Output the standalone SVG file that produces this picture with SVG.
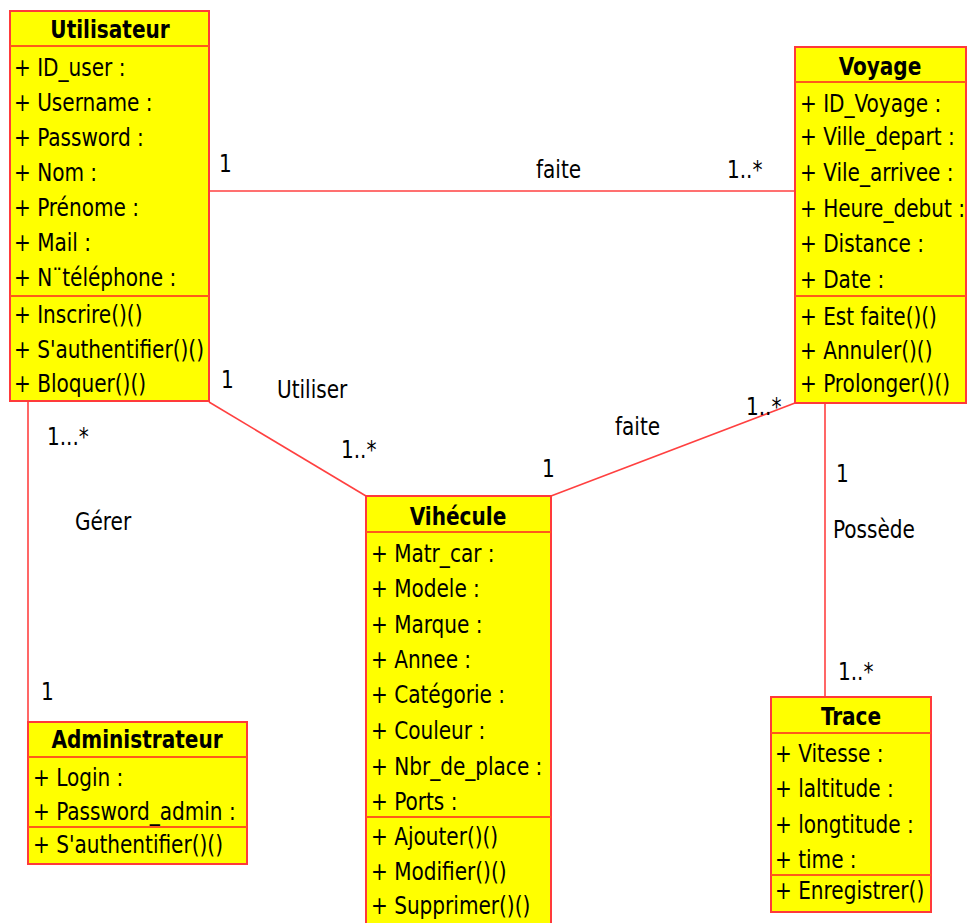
<svg xmlns="http://www.w3.org/2000/svg" width="968" height="923" viewBox="0 0 968 923">
<style>
.box{fill:#ffff00;stroke:#ff3a3a;stroke-width:2}
.sep{stroke:#ff5a1a;stroke-width:2}
.t,.lbl{font-family:"DejaVu Sans Condensed","DejaVu Sans",sans-serif;font-size:25.5px;fill:#000;transform-box:fill-box;transform-origin:0 0;transform:scaleX(0.875)}
.h{font-weight:bold;text-anchor:middle;transform-origin:50% 0}
.conn line{stroke:#ff4040;stroke-width:1.6}
</style>
<rect width="968" height="923" fill="#ffffff"/>
<g class="conn" id="connectors">
<line x1="209" y1="191" x2="795" y2="191"/>
<line x1="209" y1="402" x2="366" y2="496"/>
<line x1="551" y1="496" x2="795" y2="403"/>
<line x1="28" y1="401" x2="28" y2="722"/>
<line x1="825" y1="403" x2="825" y2="697"/>
<text class="lbl" x="219" y="172">1</text>
<text class="lbl" x="536" y="178">faite</text>
<text class="lbl" x="727" y="178">1..*</text>
<text class="lbl" x="221" y="388">1</text>
<text class="lbl" x="277" y="398">Utiliser</text>
<text class="lbl" x="341" y="458">1..*</text>
<text class="lbl" x="542" y="477">1</text>
<text class="lbl" x="615" y="435">faite</text>
<text class="lbl" x="746" y="415">1..*</text>
<text class="lbl" x="47" y="445">1...*</text>
<text class="lbl" x="75" y="530">Gérer</text>
<text class="lbl" x="41" y="700">1</text>
<text class="lbl" x="836" y="482">1</text>
<text class="lbl" x="833" y="538">Possède</text>
<text class="lbl" x="838" y="680">1..*</text>
</g>
<g id="Utilisateur">
<rect class="box" x="10" y="11" width="199" height="390"/>
<line class="sep" x1="10" y1="46" x2="209" y2="46"/>
<line class="sep" x1="10" y1="296" x2="209" y2="296"/>
<text class="t h" x="110" y="38">Utilisateur</text>
<text class="t" x="14" y="76">+ ID_user :</text>
<text class="t" x="14" y="111">+ Username :</text>
<text class="t" x="14" y="146">+ Password :</text>
<text class="t" x="14" y="181">+ Nom :</text>
<text class="t" x="14" y="216">+ Prénome :</text>
<text class="t" x="14" y="251">+ Mail :</text>
<text class="t" x="14" y="286">+ N¨téléphone :</text>
<text class="t" x="14" y="323">+ Inscrire()()</text>
<text class="t" x="14" y="358">+ S'authentifier()()</text>
<text class="t" x="14" y="392">+ Bloquer()()</text>
</g>
<g id="Voyage">
<rect class="box" x="795" y="47" width="171" height="356"/>
<line class="sep" x1="795" y1="82" x2="966" y2="82"/>
<line class="sep" x1="795" y1="296" x2="966" y2="296"/>
<text class="t h" x="880" y="75">Voyage</text>
<text class="t" x="800" y="112">+ ID_Voyage :</text>
<text class="t" x="800" y="145">+ Ville_depart :</text>
<text class="t" x="800" y="181">+ Vile_arrivee :</text>
<text class="t" x="800" y="217">+ Heure_debut :</text>
<text class="t" x="800" y="252">+ Distance :</text>
<text class="t" x="800" y="288">+ Date :</text>
<text class="t" x="800" y="325">+ Est faite()()</text>
<text class="t" x="800" y="359">+ Annuler()()</text>
<text class="t" x="800" y="392">+ Prolonger()()</text>
</g>
<g id="Vihecule">
<rect class="box" x="366" y="496" width="185" height="430"/>
<line class="sep" x1="366" y1="532" x2="551" y2="532"/>
<line class="sep" x1="366" y1="817" x2="551" y2="817"/>
<text class="t h" x="458" y="525">Vihécule</text>
<text class="t" x="371" y="562">+ Matr_car :</text>
<text class="t" x="371" y="597">+ Modele :</text>
<text class="t" x="371" y="633">+ Marque :</text>
<text class="t" x="371" y="668">+ Annee :</text>
<text class="t" x="371" y="703">+ Catégorie :</text>
<text class="t" x="371" y="739">+ Couleur :</text>
<text class="t" x="371" y="775">+ Nbr_de_place :</text>
<text class="t" x="371" y="810">+ Ports :</text>
<text class="t" x="371" y="845">+ Ajouter()()</text>
<text class="t" x="371" y="880">+ Modifier()()</text>
<text class="t" x="371" y="914">+ Supprimer()()</text>
</g>
<g id="Administrateur">
<rect class="box" x="28" y="722" width="219" height="142"/>
<line class="sep" x1="28" y1="757" x2="247" y2="757"/>
<line class="sep" x1="28" y1="827" x2="247" y2="827"/>
<text class="t h" x="137" y="748">Administrateur</text>
<text class="t" x="33" y="786">+ Login :</text>
<text class="t" x="33" y="820">+ Password_admin :</text>
<text class="t" x="33" y="853">+ S'authentifier()()</text>
</g>
<g id="Trace">
<rect class="box" x="771" y="697" width="160" height="215"/>
<line class="sep" x1="771" y1="733" x2="931" y2="733"/>
<line class="sep" x1="771" y1="875" x2="931" y2="875"/>
<text class="t h" x="851" y="725">Trace</text>
<text class="t" x="775" y="762">+ Vitesse :</text>
<text class="t" x="775" y="797">+ laltitude :</text>
<text class="t" x="775" y="833">+ longtitude :</text>
<text class="t" x="775" y="868">+ time :</text>
<text class="t" x="775" y="899">+ Enregistrer()</text>
</g>
</svg>
